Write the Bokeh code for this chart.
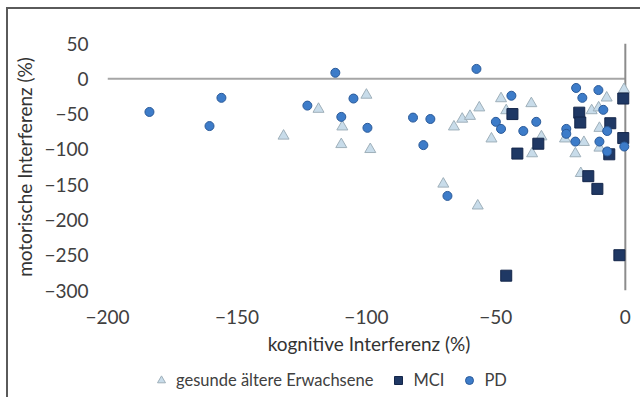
from bokeh.plotting import figure
from bokeh.layouts import column
from bokeh.models import Range1d, FixedTicker, Legend, LegendItem
from bokeh.embed import file_html
from bokeh.resources import INLINE

# --- data ---
gesunde_x = [-132, -118.5, -100, -109.3, -109.7, -98.5, -66.2, -63, -60, -56.4, -51.7, -48, -46,
             -36.3, -32.4, -36, -23.3, -16, -19.3, -13, -10.3, -7.2, -0.5, -10, -10, -17.2, -70.3, -57]
gesunde_y = [-81, -43, -23, -68, -93, -100, -68, -57, -53, -41, -85, -28, -45,
             -35, -82, -106, -85, -90, -106, -45, -41, -27, -15, -70, -98, -134, -149, -180]

mci_x = [-0.8, -43.6, -17.8, -17.4, -5.8, -33.6, -41.7, -0.8, -6.2, -14.3, -10.8, -46, -2.3]
mci_y = [-28, -50, -48, -62, -63, -92, -106, -84, -107, -138, -156, -279, -250]

pd_x = [-183.8, -156, -160.6, -122.8, -112, -105, -109.7, -99.6, -82, -75.3, -78, -68.7, -57.5,
        -44, -50, -48, -39.4, -34.4, -19, -16.6, -10.4, -8.5, -22.8, -22.8, -19.3, -7, -10, -7, -0.4]
pd_y = [-47, -27, -67, -38, 8.5, -28, -54, -69.5, -55, -57, -94, -166, 14,
        -24, -61, -71, -74, -61, -13, -27, -16, -44, -71, -78, -89, -74, -89, -103, -96]

x_ticks = [-200, -150, -100, -50, 0]
y_ticks = [50, 0, -50, -100, -150, -200, -250, -300]

labels = ["gesunde ältere Erwachsene", "MCI", "PD"]
x_title = "kognitive Interferenz (%)"
y_title = "motorische Interferenz (%)"

FONT = "Lato"
TXT = "#404040"
EDGE = "#5A5A5A"

STY = [dict(marker="triangle", size=11, fill_color="#C8DCEA", line_color="#9FB0BA", line_width=1),
       dict(marker="square", size=11, fill_color="#1F3864", line_color="#14264A", line_width=1),
       dict(marker="circle", size=9, fill_color="#3D7CC9", line_color="#2A5A99", line_width=1)]

W = 640
p = figure(width=W, height=362, output_backend="svg", toolbar_location=None,
           x_range=Range1d(x_ticks[0], x_ticks[-1] + 2), y_range=Range1d(y_ticks[-1], y_ticks[0]),
           min_border_left=107, min_border_right=10, min_border_top=43, min_border_bottom=72)
p.outline_line_color = None
p.xgrid.visible = False
p.ygrid.visible = False
p.background_fill_color = "white"
p.border_fill_color = None

for ax in (p.xaxis[0], p.yaxis[0]):
    ax.axis_line_color = None
    ax.major_tick_line_color = None
    ax.minor_tick_line_color = None
    ax.major_label_text_font = FONT
    ax.major_label_text_font_size = "19px"
    ax.major_label_text_color = TXT
    ax.axis_label_text_font = FONT
    ax.axis_label_text_font_size = "19px"
    ax.axis_label_text_font_style = "normal"
    ax.axis_label_text_color = "#333333"

p.xaxis.ticker = FixedTicker(ticks=x_ticks)
p.yaxis.ticker = FixedTicker(ticks=y_ticks)
p.xaxis.axis_label = x_title
p.yaxis.axis_label = y_title
p.xaxis.major_label_standoff = 13
p.yaxis.major_label_standoff = 13
p.xaxis.axis_label_standoff = 5
p.yaxis.axis_label_standoff = 5

# axes crossing at the origin
p.segment(x0=[x_ticks[0]], y0=[0], x1=[x_ticks[-1]], y1=[0], line_color="#A6A6A6", line_width=2)
p.segment(x0=[0], y0=[y_ticks[-1]], x1=[0], y1=[y_ticks[0]], line_color="#8C8C8C", line_width=2)

p.scatter(gesunde_x, gesunde_y, **STY[0])
p.scatter(mci_x, mci_y, **STY[1])
p.scatter(pd_x, pd_y, **STY[2])

# legend strip below the chart (its frame is aligned with the chart frame)
H2 = 35
q = figure(width=W, height=H2, output_backend="svg", toolbar_location=None,
           x_range=Range1d(0, 1), y_range=Range1d(0, 1),
           x_axis_location=None, y_axis_location=None, min_border=0)
q.outline_line_color = None
q.xgrid.visible = False
q.ygrid.visible = False
q.background_fill_color = None
q.border_fill_color = None
nan = float("nan")
rs = [q.scatter(x=[nan], y=[nan], **s) for s in STY]

legend = Legend(items=[LegendItem(label=lab, renderers=[r]) for lab, r in zip(labels, rs)],
                orientation="horizontal", location=(44, 7), spacing=15, padding=2,
                glyph_width=20, glyph_height=20, label_standoff=5,
                border_line_color=None, background_fill_alpha=0,
                label_text_font=FONT, label_text_font_size="16.5px", label_text_color=TXT)
q.add_layout(legend, "center")

layout = column(p, q, spacing=0)
layout.styles = {"background": (f"linear-gradient({EDGE},{EDGE}) 6px 7px/2px 100% no-repeat, "
                                f"linear-gradient({EDGE},{EDGE}) 6px 7px/100% 2px no-repeat, #ffffff")}

open("out.html", "w").write(file_html(layout, INLINE))
